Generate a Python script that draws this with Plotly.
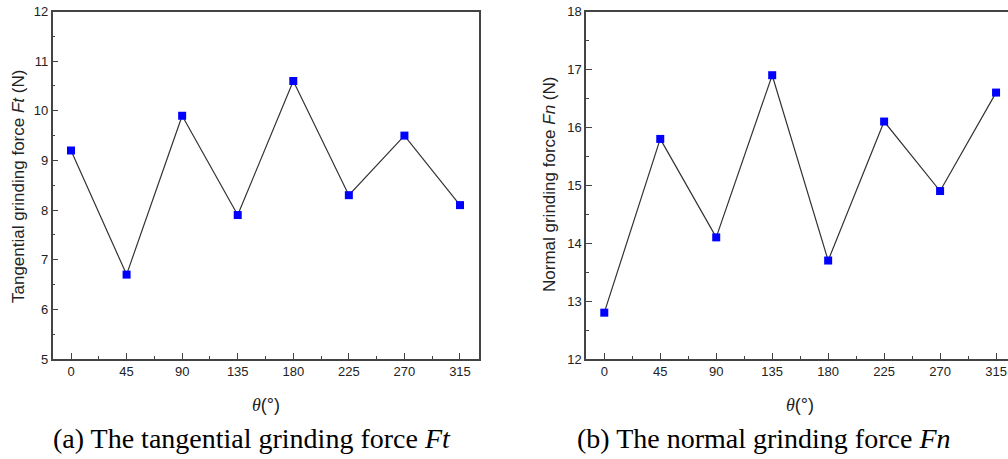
import plotly.graph_objects as go

theta = [0, 45, 90, 135, 180, 225, 270, 315]
ft_values = [9.2, 6.7, 9.9, 7.9, 10.6, 8.3, 9.5, 8.1]
fn_values = [12.8, 15.8, 14.1, 16.9, 13.7, 16.1, 14.9, 16.6]
x_ticks = [0, 45, 90, 135, 180, 225, 270, 315]
ft_ticks = [5, 6, 7, 8, 9, 10, 11, 12]
fn_ticks = [12, 13, 14, 15, 16, 17, 18]

W, H = 1008, 459
def px(x):
    return x / W
def py(y):
    return 1 - y / H

axis_col = "#444444"
sans = "Liberation Sans, Arial, sans-serif"
serif = "Liberation Serif, Times New Roman, serif"

fig = go.Figure()
line_style = dict(color="#333333", width=1.2)
marker_style = dict(symbol="square", size=8, color="#0000FF")

fig.add_trace(go.Scatter(x=theta, y=ft_values, mode="lines+markers",
                         line=line_style, marker=marker_style,
                         xaxis="x", yaxis="y", showlegend=False, cliponaxis=False))
fig.add_trace(go.Scatter(x=theta, y=fn_values, mode="lines+markers",
                         line=line_style, marker=marker_style,
                         xaxis="x2", yaxis="y2", showlegend=False, cliponaxis=False))

common_x = dict(tickvals=x_ticks, ticktext=[str(v) for v in x_ticks],
                ticks="inside", ticklen=6, tickwidth=1, tickcolor=axis_col,
                minor=dict(ticks="inside", ticklen=3, tickwidth=1, tickcolor=axis_col, dtick=22.5, tick0=0),
                showline=True, linecolor=axis_col, linewidth=1.5,
                showgrid=False, zeroline=False, automargin=False,
                tickfont=dict(family=sans, size=13, color="#222222"))
common_y = dict(ticks="inside", ticklen=6, tickwidth=1, tickcolor=axis_col,
                minor=dict(ticks="inside", ticklen=3, tickwidth=1, tickcolor=axis_col, dtick=0.5),
                showline=True, linecolor=axis_col, linewidth=1.5,
                showgrid=False, zeroline=False, automargin=False,
                tickfont=dict(family=sans, size=13, color="#222222"))

y0, y1 = py(359), py(11.5)

fig.update_layout(
    width=W, height=H,
    margin=dict(l=0, r=0, t=0, b=0, autoexpand=False),
    paper_bgcolor="white", plot_bgcolor="white",
    xaxis=dict(domain=[px(52.5), px(479)], range=[-15, 330.4], mirror=True,
               anchor="y", **common_x),
    yaxis=dict(domain=[y0, y1], range=[5, 12], tickvals=ft_ticks, mirror=True,
               anchor="x", **common_y),
    xaxis2=dict(domain=[px(586), 1.0], range=[-14.7, 324.6], mirror=True,
                anchor="y2", **common_x),
    yaxis2=dict(domain=[y0, y1], range=[12, 18], tickvals=fn_ticks, mirror=False,
                anchor="x2", **common_y),
)

ann = []
ann.append(dict(x=px(18), y=py(187), xref="paper", yref="paper",
                text="Tangential grinding force <i>Ft</i> (N)", textangle=-90,
                showarrow=False, font=dict(family=sans, size=17, color="#222222"),
                xanchor="center", yanchor="middle"))
ann.append(dict(x=px(549), y=py(185), xref="paper", yref="paper",
                text="Normal grinding force <i>Fn</i> (N)", textangle=-90,
                showarrow=False, font=dict(family=sans, size=17, color="#222222"),
                xanchor="center", yanchor="middle"))
theta_txt = '<span style="font-family:Liberation Serif"><i>θ</i></span>(°)'
ann.append(dict(x=px(265.5), y=py(405), xref="paper", yref="paper",
                text=theta_txt, showarrow=False,
                font=dict(family=sans, size=18, color="#222222"),
                xanchor="center", yanchor="middle"))
ann.append(dict(x=px(800), y=py(405), xref="paper", yref="paper",
                text=theta_txt, showarrow=False,
                font=dict(family=sans, size=18, color="#222222"),
                xanchor="center", yanchor="middle"))
ann.append(dict(x=px(252), y=py(438), xref="paper", yref="paper",
                text="(a) The tangential grinding force <i>Ft</i>", showarrow=False,
                font=dict(family=serif, size=28, color="#000000"),
                xanchor="center", yanchor="middle"))
ann.append(dict(x=px(763), y=py(438), xref="paper", yref="paper",
                text="(b) The normal grinding force <i>Fn</i>", showarrow=False,
                font=dict(family=serif, size=28, color="#000000"),
                xanchor="center", yanchor="middle"))
fig.update_layout(annotations=ann)

fig.write_html("out.html", config={"displayModeBar": False},
               post_script="document.body.style.margin='0';document.body.style.padding='0';document.body.style.overflow='hidden';")
